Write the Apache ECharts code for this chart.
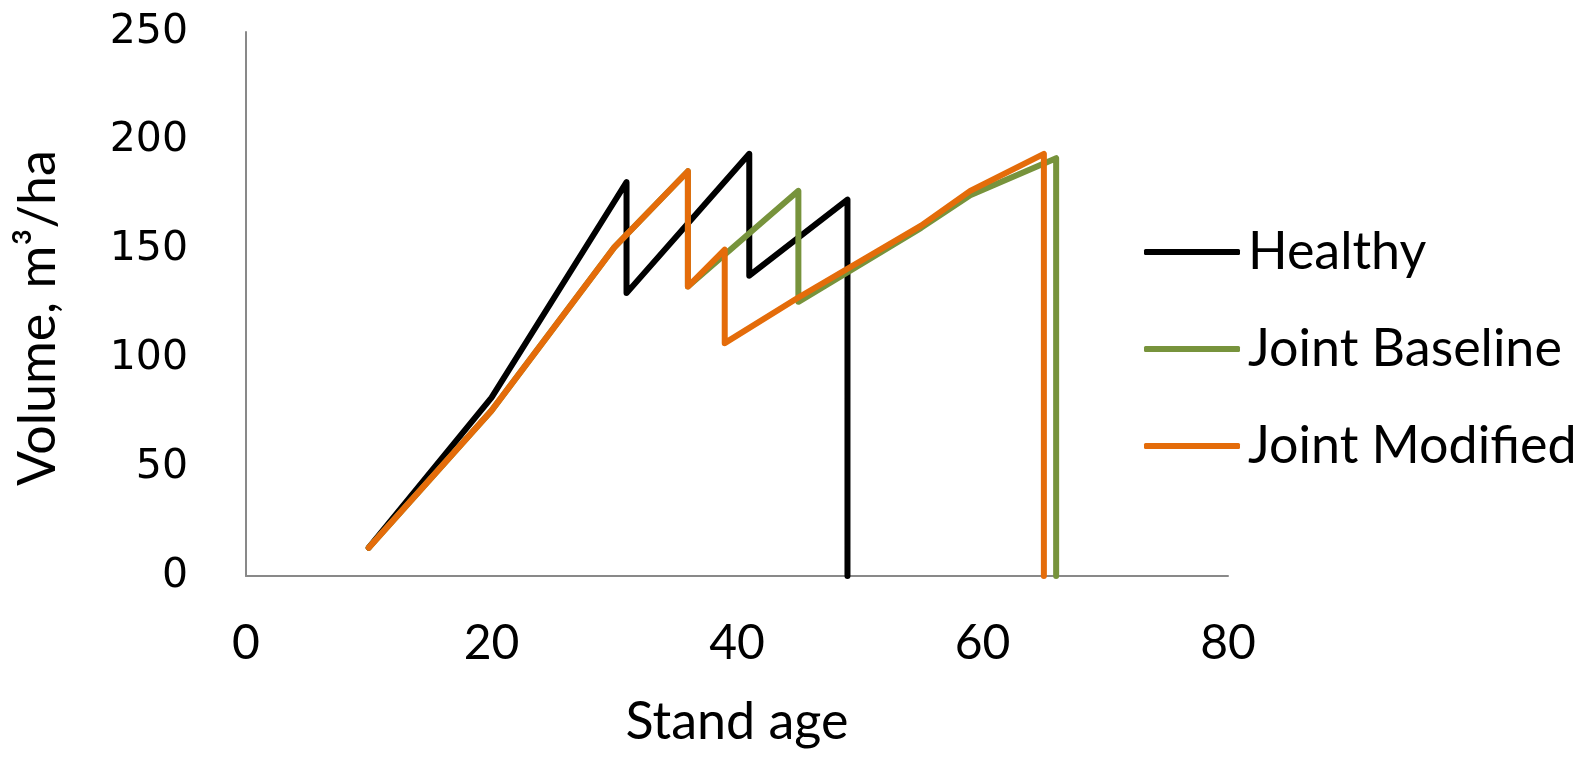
<!DOCTYPE html>
<html>
<head>
<meta charset="utf-8">
<script src="https://cdn.jsdelivr.net/npm/echarts@6/dist/echarts.min.js"></script>
<style>
html,body{margin:0;padding:0;background:#fff;}
#chart{width:1581px;height:758px;}
</style>
</head>
<body>
<div id="chart"></div>
<script>
// Stand age (x) and volume m3/ha (y) pairs
var healthyAge    = [10, 20, 30, 31, 31, 41, 41, 49, 49];
var healthyVol    = [13, 82, 172, 181, 130, 194, 138, 173, 0];
var baselineAge   = [10, 20, 30, 36, 36, 45, 45, 55, 59, 66, 66];
var baselineVol   = [13, 76, 151, 186, 133, 177, 126, 160, 175, 192, 0];
var modifiedAge   = [10, 20, 30, 36, 36, 39, 39, 45, 55, 59, 65, 65];
var modifiedVol   = [13, 76, 151, 186, 133, 150, 107, 128, 161, 177, 194, 0];
var seriesNames   = ['Healthy', 'Joint Baseline', 'Joint Modified'];
var seriesColors  = ['#000000', '#77933C', '#E46C0A'];

function pairs(xs, ys){ return xs.map(function(x,i){ return [x, ys[i]]; }); }
var allData = [pairs(healthyAge, healthyVol), pairs(baselineAge, baselineVol), pairs(modifiedAge, modifiedVol)];

var chart = echarts.init(document.getElementById('chart'), null, {renderer:'canvas'});
var textFont = 'Lato, "Open Sans", sans-serif';
chart.setOption({
  animation:false,
  backgroundColor:'#fff',
  grid:{left:246, right:353, top:32, bottom:182, containLabel:false},
  xAxis:{
    type:'value', min:0, max:80, interval:20,
    name:'Stand age', nameLocation:'middle', nameGap:120,
    nameTextStyle:{fontFamily:textFont, fontSize:52, color:'#000'},
    axisLine:{show:true, lineStyle:{color:'#898989', width:2}},
    axisTick:{show:false},
    splitLine:{show:false},
    axisLabel:{fontFamily:textFont, fontSize:48, color:'#000', margin:44}
  },
  yAxis:{
    type:'value', min:0, max:250, interval:50,
    name:'Volume, m\u00B3/ha', nameLocation:'middle', nameGap:182,
    nameTextStyle:{fontFamily:textFont, fontSize:52, color:'#000', padding:[0,28,0,0]},
    axisLine:{show:true, lineStyle:{color:'#898989', width:2}},
    axisTick:{show:false},
    splitLine:{show:false},
    axisLabel:{fontFamily:'"DejaVu Sans", sans-serif', fontSize:41, color:'#000', margin:58}
  },
  legend:{
    orient:'vertical', left:1139, top:216,
    icon:'roundRect',
    itemWidth:96, itemHeight:6, itemGap:35,
    textStyle:{fontFamily:textFont, fontSize:52, color:'#000', lineHeight:62, padding:[0,0,0,3]},
    data:seriesNames
  },
  series: seriesNames.map(function(n,i){
    return {
      name:n, type:'line', data:allData[i],
      symbol:'none', showSymbol:false,
      color:seriesColors[i],
      itemStyle:{color:seriesColors[i]},
      lineStyle:{color:seriesColors[i], width:6, cap:'round', join:'round'},
      z:2+i
    };
  })
});
</script>
</body>
</html>
